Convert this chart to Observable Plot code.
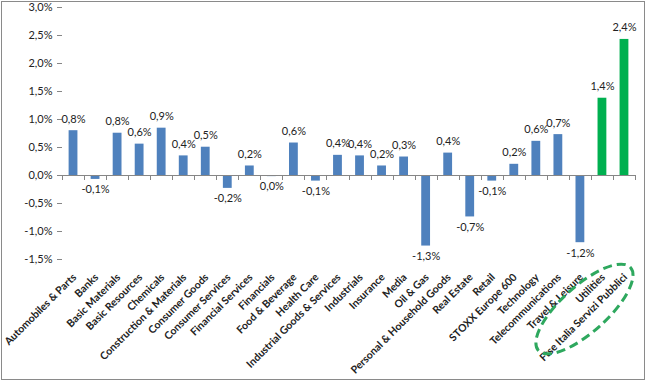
<!DOCTYPE html>
<html>
<head>
<meta charset="utf-8">
<script src="https://cdn.jsdelivr.net/npm/d3@7"></script>
<script src="https://cdn.jsdelivr.net/npm/@observablehq/plot@0.6"></script>
<style>
  html, body { margin: 0; padding: 0; background: #fff; }
  #chart svg { display: block; outline: 1px solid #8a8a8a; outline-offset: -2px; }
</style>
</head>
<body>
<div id="chart"></div>
<script>
const categories = [
  "Automobiles & Parts", "Banks", "Basic Materials", "Basic Resources", "Chemicals",
  "Construction & Materials", "Consumer Goods", "Consumer Services", "Financial Services",
  "Financials", "Food & Beverage", "Health Care", "Industrial Goods & Services",
  "Industrials", "Insurance", "Media", "Oil & Gas", "Personal & Household Goods",
  "Real Estate", "Retail", "STOXX Europe 600", "Technology", "Telecommunications",
  "Travel & Leisure", "Utilities", "Ftse Italia Servizi Pubblici"
];
const values = [
  0.80, -0.07, 0.755, 0.56, 0.845,
  0.35, 0.505, -0.23, 0.17,
  -0.02, 0.58, -0.10, 0.36,
  0.35, 0.17, 0.33, -1.26, 0.40,
  -0.74, -0.10, 0.20, 0.61, 0.73,
  -1.20, 1.38, 2.43
];
const valueLabels = [
  "0,8%", "-0,1%", "0,8%", "0,6%", "0,9%",
  "0,4%", "0,5%", "-0,2%", "0,2%",
  "0,0%", "0,6%", "-0,1%", "0,4%",
  "0,4%", "0,2%", "0,3%", "-1,3%", "0,4%",
  "-0,7%", "-0,1%", "0,2%", "0,6%", "0,7%",
  "-1,2%", "1,4%", "2,4%"
];
const highlighted = ["Utilities", "Ftse Italia Servizi Pubblici"];
const yTicks = [-1.5, -1.0, -0.5, 0, 0.5, 1.0, 1.5, 2.0, 2.5, 3.0];

const data = categories.map((c, i) => ({
  cat: c, value: values[i], label: valueLabels[i],
  group: highlighted.includes(c) ? "hl" : "base"
}));

const fmt = d => d3.format(".1f")(d).replace(".", ",").replace("\u2212", "-") + "%";
const FONT = "Lato, 'Open Sans', sans-serif";

const plot = Plot.plot({
  width: 646,
  height: 381,
  marginLeft: 62,
  marginRight: 11,
  marginTop: 7,
  marginBottom: 122,
  style: { fontFamily: FONT, fontSize: "11px", color: "#222", background: "#fff" },
  x: { domain: categories, paddingInner: 0.6, paddingOuter: 0.3, align: 0.5, round: false, label: null },
  y: { domain: [-1.5, 3.0], ticks: yTicks, tickFormat: fmt, label: null },
  color: { domain: ["base", "hl"], range: ["#4f81bd", "#00b050"] },
  marks: [
    Plot.barY(data, { x: "cat", y: "value", fill: "group" }),
    Plot.ruleY([0], { stroke: "#868686", strokeWidth: 1 }),
    Plot.axisY({ ticks: yTicks, tickFormat: fmt, tickSize: 5, tickPadding: 5, stroke: "#868686", fill: "#222", fontSize: 11 }),
    Plot.ruleX([0], { frameAnchor: "left", stroke: "#868686" }),
    Plot.axisX({ tickRotate: -45, tickSize: 0, tickPadding: 10, dx: 1, dy: 6, fontWeight: "bold", fontSize: 10.5, fill: "#222" }),
    Plot.text(data.filter(d => d.value >= 0), { x: "cat", y: "value", text: "label", lineAnchor: "bottom", dy: -8, fill: "#222", fontSize: 11 }),
    Plot.text(data.filter(d => d.value < 0), { x: "cat", y: "value", text: "label", lineAnchor: "top", dy: 6, fill: "#222", fontSize: 11 })
  ]
});

// category boundary ticks on the zero line, and the annotation ellipse, placed with the plot's scales
const sx = plot.scale("x");
const sy = plot.scale("y");
const svg = d3.select(plot);
const y0 = sy.apply(0);
const step = sx.step;
const start = sx.apply(categories[0]) - (step - sx.bandwidth) / 2;
const g = svg.append("g").attr("stroke", "#868686");
for (let i = 0; i <= categories.length; i++) {
  const xx = Math.round(start + i * step) + 0.5;
  g.append("line").attr("x1", xx).attr("x2", xx).attr("y1", y0).attr("y2", y0 + 5);
}
const ux = sx.apply("Utilities") + sx.bandwidth / 2;
const yb = sy.apply(-1.5);
const cx = ux - 17.5, cy = yb + 50;
svg.append("ellipse")
  .attr("cx", cx).attr("cy", cy)
  .attr("rx", 62).attr("ry", 23)
  .attr("transform", `rotate(-42 ${cx} ${cy})`)
  .attr("fill", "none").attr("stroke", "#2ea85e").attr("stroke-width", 3)
  .attr("stroke-dasharray", "9 5");

document.getElementById("chart").append(plot);
</script>
</body>
</html>
